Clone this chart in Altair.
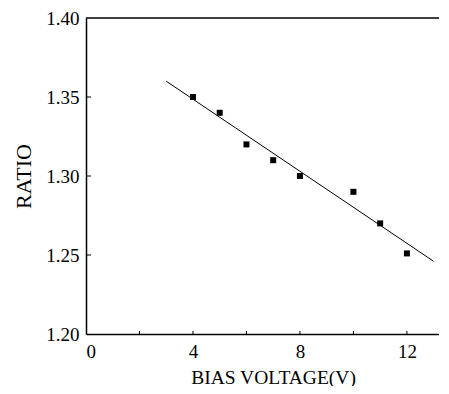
import altair as alt
import pandas as pd

bias_v = [4, 5, 6, 7, 8, 10, 11, 12]
ratio = [1.350, 1.340, 1.320, 1.310, 1.300, 1.290, 1.270, 1.251]
fit_x = [3, 13]
fit_y = [1.360, 1.246]
x_tick_vals = [2, 4, 6, 8, 10, 12]
x_label_vals = [0, 4, 8, 12]
y_tick_vals = [1.25, 1.30, 1.35]
y_label_vals = [1.20, 1.25, 1.30, 1.35, 1.40]
top_val = [1.40]

W, H = 353, 316
FONT = "Liberation Serif"

xs = alt.Scale(domain=[0, 13.2], nice=False, zero=False)
ys = alt.Scale(domain=[1.2, 1.4], nice=False, zero=False)

pts_df = pd.DataFrame({"v": bias_v, "r": ratio})
fit_df = pd.DataFrame({"v": fit_x, "r": fit_y})

x_axis = alt.Axis(values=x_label_vals, ticks=False, grid=False, domainColor="black",
                  domainWidth=1.5, labelFont=FONT, labelFontSize=19, labelColor="black",
                  labelPadding=8, title="BIAS VOLTAGE(V)", titleFont=FONT, titleFontSize=19.5,
                  titleFontWeight="normal", titleColor="black", titlePadding=7,
                  titleX=187, titleAlign="center")
y_axis = alt.Axis(values=y_label_vals, format=".2f", ticks=False, grid=False,
                  domainColor="black", domainWidth=1.5, labelFont=FONT, labelFontSize=19,
                  labelColor="black", labelPadding=7, title="RATIO", titleFont=FONT,
                  titleFontSize=22, titleFontWeight="normal", titleColor="black",
                  titlePadding=10)

points = alt.Chart(pts_df).mark_square(size=36, color="black", opacity=1).encode(
    x=alt.X("v:Q", scale=xs, axis=x_axis),
    y=alt.Y("r:Q", scale=ys, axis=y_axis),
)

fit = alt.Chart(fit_df).mark_line(color="black", strokeWidth=1).encode(
    x=alt.X("v:Q", scale=xs),
    y=alt.Y("r:Q", scale=ys),
)

top = alt.Chart(pd.DataFrame({"t": top_val})).mark_rule(color="black", strokeWidth=1.5).encode(
    y=alt.Y("t:Q", scale=ys),
    x=alt.value(0),
    x2=alt.value(W),
)

ytk = alt.Chart(pd.DataFrame({"t": y_tick_vals})).mark_rule(color="black", strokeWidth=1).encode(
    y=alt.Y("t:Q", scale=ys),
    x=alt.value(0),
    x2=alt.value(5),
)

xtk = alt.Chart(pd.DataFrame({"t": x_tick_vals})).mark_rule(color="black", strokeWidth=1).encode(
    x=alt.X("t:Q", scale=xs),
    y=alt.value(H),
    y2=alt.value(H - 3),
)

chart = alt.layer(fit, top, ytk, xtk, points).properties(
    width=W, height=H,
    autosize=alt.AutoSizeParams(type="none"),
    padding={"left": 78, "top": 10, "right": 0, "bottom": 52},
    background="white",
).configure_view(stroke=None)

chart.save("out.html", embed_options={"renderer": "svg", "actions": False})
